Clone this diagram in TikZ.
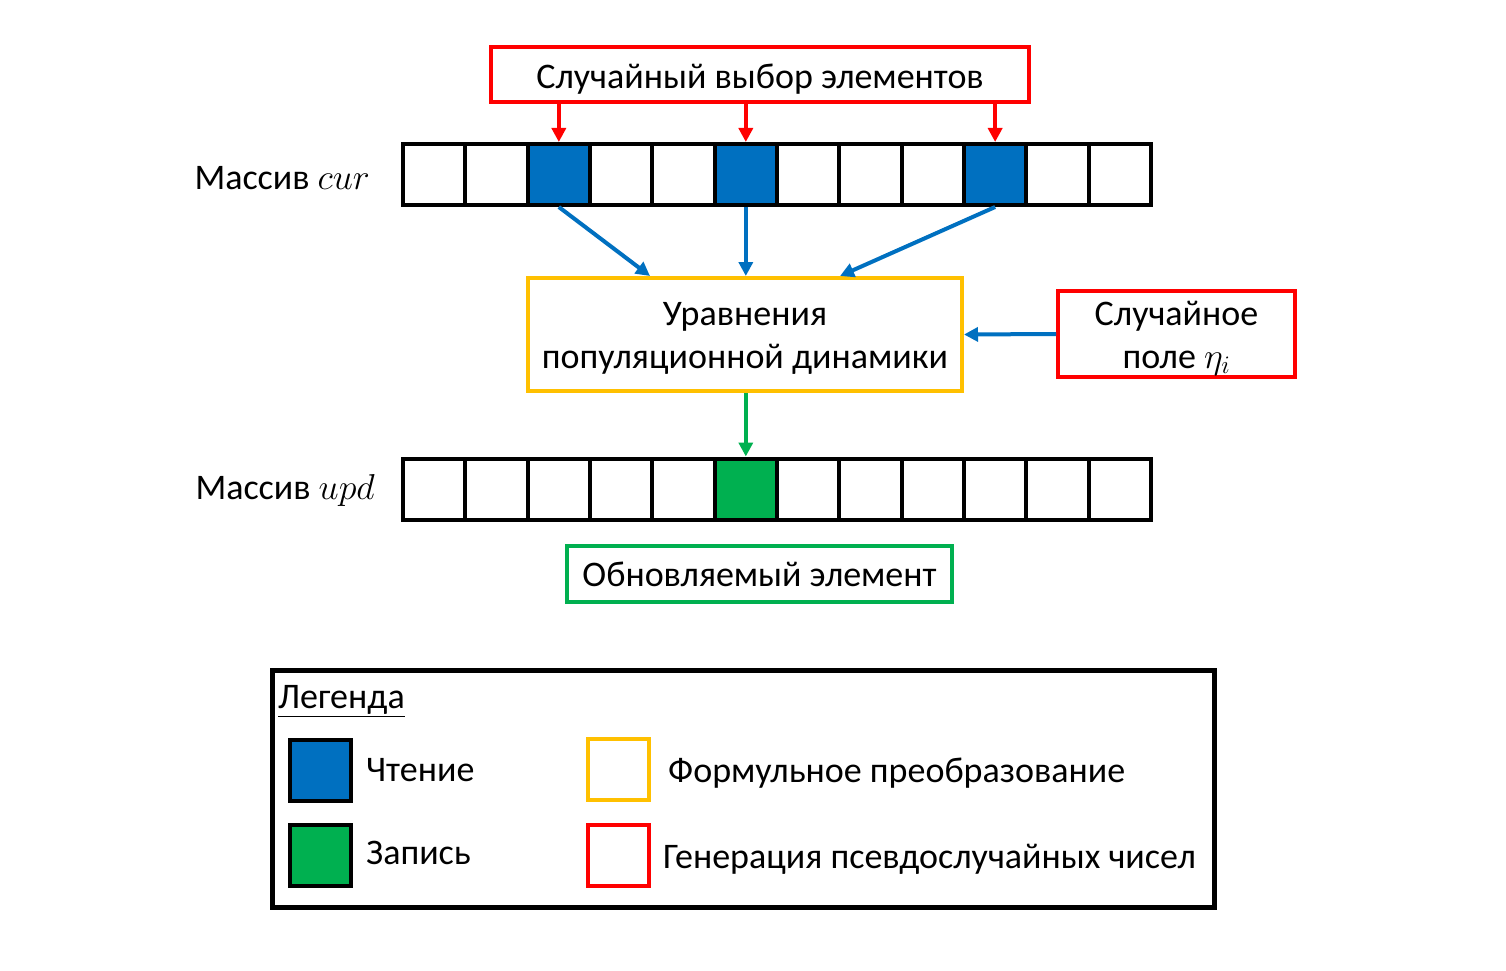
\RequirePackage{fix-cm}
\documentclass[tikz,border=0pt]{standalone}
\usepackage{fontspec}
\setmainfont{Carlito}
\usetikzlibrary{arrows.meta,calc}
\definecolor{cblue}{HTML}{0070C0}
\definecolor{cgreen}{HTML}{00B050}
\definecolor{cyellow}{HTML}{FFC000}
\definecolor{cred}{HTML}{FF0000}
\newcommand{\lowered}[2]{\raisebox{-#1}[\height][\depth]{#2}}
\newcommand{\twolines}[2]{\lowered{4pt}{\begin{tabular}{@{}c@{}}#1\\#2\end{tabular}}}
\tikzset{
  txt/.style={font=\fontsize{36}{43}\selectfont, inner sep=0pt},
  cell/.style={draw=black, line width=4pt, minimum width=62.33pt, minimum height=61pt, inner sep=0pt, fill=white},
  frame/.style={line width=4pt, inner sep=0pt, align=center, font=\fontsize{36}{43}\selectfont},
  arr/.style={line width=4pt, -{Triangle[length=14pt,width=14pt]}},
  legsq/.style={line width=4pt, minimum width=61pt, minimum height=61pt, inner sep=0pt},
}
\begin{document}
\begin{tikzpicture}[x=1pt,y=-1pt]
\useasboundingbox (0,0) rectangle (1506,971);
% top red box
\node[frame, draw=cred, minimum width=538pt, minimum height=55pt] (rsel) at (760,74.5) {\lowered{5pt}{Случайный выбор элементов}};
% arrays
\foreach \i in {1,...,12} {
  \node[cell] (c\i) at ({403+62.33*(\i-0.5)},174.5) {};
  \node[cell] (u\i) at ({403+62.33*(\i-0.5)},489) {};
}
\node[cell, fill=cblue] at (c3) {};
\node[cell, fill=cblue] at (c6) {};
\node[cell, fill=cblue] at (c10) {};
\node[cell, fill=cgreen] at (u6) {};
\node[txt, anchor=east] (lcur) at (370,178) {Массив $cur$};
\node[txt, anchor=east] (lupd) at (375,490) {Массив $upd$};
% equations box
\node[frame, draw=cyellow, minimum width=434pt, minimum height=113pt] (eq) at (745,334.5) {\twolines{Уравнения}{популяционной динамики}};
% random field
\node[frame, draw=cred, minimum width=237pt, minimum height=82pt] (rf) at (1176.5,334) {\twolines{Случайное}{поле $\eta_i$}};
% updated element
\node[frame, draw=cgreen, minimum width=385pt, minimum height=56pt] (upel) at (759.5,574) {Обновляемый элемент};
% arrows
\foreach \i in {3,6,10} {
  \draw[arr, cred] (rsel.south -| c\i.center) -- (c\i.north);
}
\draw[arr, cblue] (c3.south) -- ([xshift=124pt]eq.north west);
\draw[arr, cblue] (c6.south) -- (eq.north -| c6.center);
\draw[arr, cblue] (c10.south) -- ([xshift=-124pt]eq.north east);
\draw[arr, cblue] (rf.west) -- (eq.east);
\draw[arr, cgreen] (eq.south -| u6.center) -- (u6.north);
% legend
\node[draw=black, line width=5pt, minimum width=942pt, minimum height=237pt, inner sep=0pt] (leg) at (743.5,789) {};
\node[txt, anchor=west] (legt) at (278,701) {\underline{Легенда}};
\node[legsq, draw=black, fill=cblue] (lb) at (320.5,770.5) {};
\node[legsq, draw=black, fill=cgreen] (lg) at (320.5,855) {};
\node[legsq, draw=cyellow] (ly) at (618,769.5) {};
\node[legsq, draw=cred] (lr) at (618,855) {};
\node[txt, anchor=west] (tb) at (366,770) {Чтение};
\node[txt, anchor=west] (tg) at (366,853) {Запись};
\node[txt, anchor=west] (ty) at (668,773) {Формульное преобразование};
\node[txt, anchor=west] (tr) at (663,859) {Генерация псевдослучайных чисел};
\end{tikzpicture}
\end{document}
